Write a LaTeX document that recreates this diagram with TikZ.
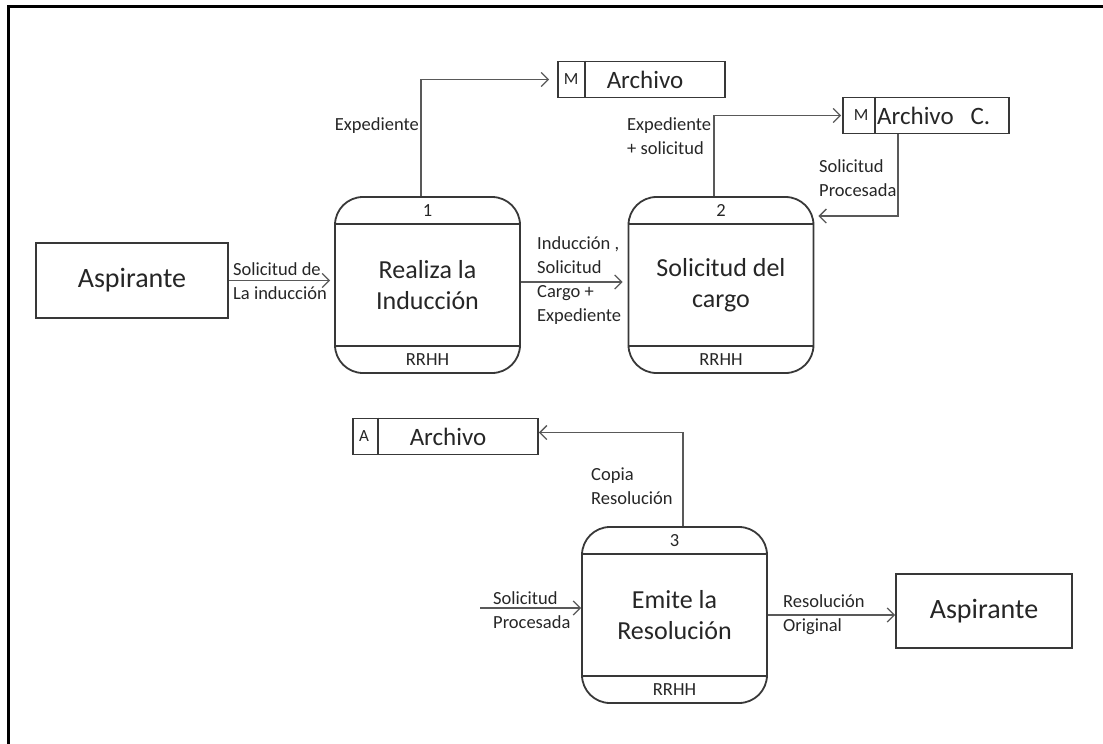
\documentclass[tikz,border=0pt]{standalone}
\usepackage{fontspec}
\setmainfont{Carlito}
\usetikzlibrary{arrows.meta}
\begin{document}
\begin{tikzpicture}[x=1pt,y=-1pt,
  ink/.style={draw=black!78, line width=1.8pt},
  bigtext/.style={font=\fontsize{26}{31}\selectfont, text=black!85},
  smalltext/.style={font=\fontsize{18.5}{24}\selectfont, text=black!85, inner sep=0pt},
  lbl/.style={smalltext, align=left},
  proc/.style={ink, rounded corners=28pt, minimum width=185pt, minimum height=176pt,
    align=center, bigtext, inner sep=0pt},
  entity/.style={ink, minimum width=192pt, minimum height=75pt, bigtext,
    font=\fontsize{28}{33}\selectfont, inner sep=0pt},
  store/.style={ink, minimum height=36pt, inner sep=0pt},
  storetext/.style={font=\fontsize{25}{30}\selectfont, text=black!85, inner sep=0pt},
  storekey/.style={font=\fontsize{17}{20}\selectfont, text=black!85, inner sep=0pt},
  flow/.style={draw=black!65, line width=1.6pt,
    -{Straight Barb[length=7pt,width=14pt,line width=1.3pt]}}
]
\useasboundingbox (0,0) rectangle (1103,744);
% page frame (top and left edges)
\draw[line width=3pt, black] (8.5,744) -- (8.5,6.5) -- (1103,6.5);

% processes
\node[proc] (p1) at (427.5,285) {Realiza la\\Inducción};
\node[proc] (p2) at (721,285) {Solicitud del\\cargo};
\node[proc] (p3) at (674.5,615) {Emite la\\Resolución};
\foreach \p/\n in {p1/1, p2/2, p3/3}{
  \draw[ink] ([yshift=-28pt]\p.north west) -- ([yshift=-28pt]\p.north east);
  \draw[ink] ([yshift=28pt]\p.south west) -- ([yshift=28pt]\p.south east);
  \node[smalltext] (\p num) at ([yshift=-14pt]\p.north) {\n};
  \node[smalltext] (\p unit) at ([yshift=14pt]\p.south) {RRHH};
}

% external entities
\node[entity] (a1) at (132,280.5) {Aspirante};
\node[entity, minimum width=176pt, minimum height=74pt] (a2) at (984,611) {Aspirante};

% data stores
\node[store, minimum width=167pt] (s1) at (641.5,79.5) {};
\draw[ink] ([xshift=28pt]s1.north west) -- ([xshift=28pt]s1.south west);
\node[storekey] (s1k) at ([xshift=14pt]s1.west) {M};
\node[storetext] (s1t) at (645,80) {Archivo};

\node[store, minimum width=166pt] (s2) at (926,115.5) {};
\draw[ink] ([xshift=33pt]s2.north west) -- ([xshift=33pt]s2.south west);
\node[storekey] (s2k) at ([xshift=19pt]s2.west) {M};
\node[storetext, anchor=west] (s2t) at (877,116) {Archivo\hspace{0.45em} C.};

\node[store, minimum width=185pt] (s3) at (445.5,436.5) {};
\draw[ink] ([xshift=26pt]s3.north west) -- ([xshift=26pt]s3.south west);
\node[storekey] (s3k) at ([xshift=12pt]s3.west) {A};
\node[storetext] (s3t) at (448,437) {Archivo};

% flows
\draw[flow, shorten >=8pt] ([xshift=-6.5pt]p1.north) |- (s1.west);
\draw[flow, shorten >=1pt] ([xshift=-7pt]p2.north) |- (s2.west);
\draw[flow, shorten >=4pt] ([xshift=-28pt]s2.south) |- ([yshift=69pt]p2.east);
\draw[flow, shorten >=4pt] (a1.east) -- (a1.east -| p1.west);
\draw[flow, shorten >=5pt] ([yshift=3pt]p1.east) -- ([yshift=3pt]p2.west);
\draw[flow] ([xshift=8.5pt]p3.north) |- ([yshift=4pt]s3.east);
\coordinate (in3) at (480,608);
\draw[flow] (in3) -- (in3 -| p3.west);
\draw[flow] (p3.east) -- (p3.east -| a2.west);

% flow labels
\node[lbl, anchor=east] (l1) at (419,126) {Expediente};
\node[lbl, anchor=west] (l2) at (627,136.5) {Expediente\\+ solicitud};
\node[lbl, anchor=west] (l3) at (819,178.5) {Solicitud\\Procesada};
\node[lbl, anchor=west] (l4) at (233,281) {Solicitud de\\La inducción};
\node[lbl, anchor=west] (l5) at (537,280.5) {Inducción ,\\Solicitud\\Cargo +\\Expediente};
\node[lbl, anchor=west] (l6) at (591,486.5) {Copia\\Resolución};
\node[lbl, anchor=west] (l7) at (493,610.5) {Solicitud\\Procesada};
\node[lbl, anchor=west] (l8) at (783,614.5) {Resolución\\Original};
\end{tikzpicture}
\end{document}
